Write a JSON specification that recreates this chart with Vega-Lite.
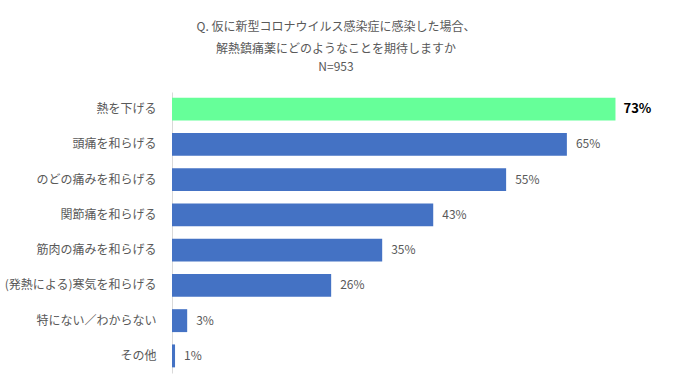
{
  "$schema": "https://vega.github.io/schema/vega-lite/v6.json",
  "autosize": {"type": "none"},
  "width": 486,
  "height": 281,
  "padding": {"left": 172, "top": 92, "right": 15, "bottom": 15},
  "background": "#FFFFFF",
  "title": {
    "text": ["Q. 仮に新型コロナウイルス感染症に感染した場合、", "解熱鎮痛薬にどのようなことを期待しますか"],
    "subtitle": "N=953",
    "anchor": "middle",
    "frame": "group",
    "dx": -79,
    "offset": 18,
    "fontSize": 12,
    "subtitleFontSize": 12,
    "fontWeight": "normal",
    "font": "Noto Sans CJK JP",
    "subtitleFont": "Noto Sans CJK JP",
    "color": "#595959",
    "subtitleColor": "#595959",
    "lineHeight": 22,
    "subtitlePadding": 6
  },
  "data": {
    "values": [
      {"item": "熱を下げる", "value": 0.73, "label": "73%", "top": "yes"},
      {"item": "頭痛を和らげる", "value": 0.65, "label": "65%", "top": "no"},
      {"item": "のどの痛みを和らげる", "value": 0.55, "label": "55%", "top": "no"},
      {"item": "関節痛を和らげる", "value": 0.43, "label": "43%", "top": "no"},
      {"item": "筋肉の痛みを和らげる", "value": 0.346, "label": "35%", "top": "no"},
      {"item": "(発熱による)寒気を和らげる", "value": 0.262, "label": "26%", "top": "no"},
      {"item": "特にない／わからない", "value": 0.025, "label": "3%", "top": "no"},
      {"item": "その他", "value": 0.005, "label": "1%", "top": "no"}
    ]
  },
  "encoding": {
    "y": {
      "field": "item",
      "type": "nominal",
      "sort": null,
      "scale": {"paddingInner": 0.35, "paddingOuter": 0.16},
      "axis": {
        "title": null,
        "ticks": false,
        "domainColor": "#D9D9D9",
        "labelFont": "Noto Sans CJK JP",
        "labelFontSize": 12,
        "labelColor": "#595959",
        "labelPadding": 16,
        "labelLimit": 300
      }
    },
    "x": {
      "field": "value",
      "type": "quantitative",
      "scale": {"domain": [0, 0.8]},
      "axis": null
    }
  },
  "layer": [
    {
      "mark": {"type": "bar"},
      "encoding": {
        "color": {
          "field": "top",
          "type": "nominal",
          "scale": {"domain": ["yes", "no"], "range": ["#66FF99", "#4472C4"]},
          "legend": null
        }
      }
    },
    {
      "transform": [{"filter": "datum.top === 'yes'"}],
      "mark": {"type": "text", "align": "left", "baseline": "middle", "dx": 8, "font": "Noto Sans CJK JP", "fontSize": 13, "fontWeight": "bold", "color": "#000000"},
      "encoding": {
        "text": {"field": "label"}
      }
    },
    {
      "transform": [{"filter": "datum.top === 'no'"}],
      "mark": {"type": "text", "align": "left", "baseline": "middle", "dx": 9, "font": "Noto Sans CJK JP", "fontSize": 12, "color": "#595959"},
      "encoding": {
        "text": {"field": "label"}
      }
    }
  ],
  "config": {"view": {"stroke": null}, "axis": {"grid": false}}
}
